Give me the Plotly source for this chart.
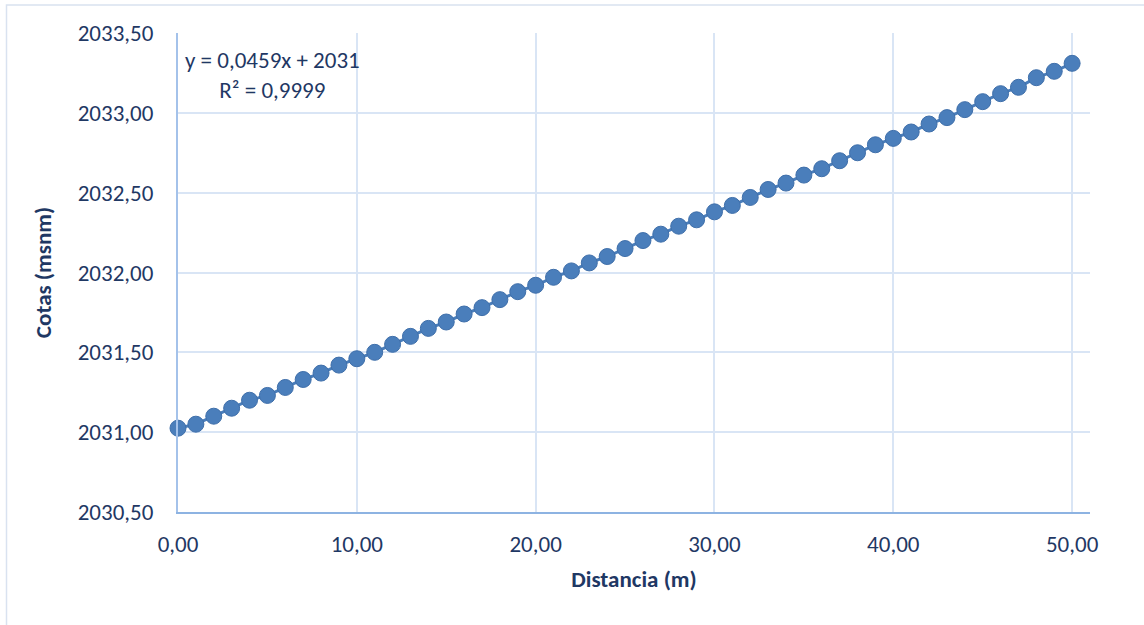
import plotly.graph_objects as go

distancia = list(range(0, 51))
cotas = [2031.025, 2031.05, 2031.10, 2031.15, 2031.20, 2031.23, 2031.28, 2031.33, 2031.37, 2031.42,
         2031.46, 2031.50, 2031.55, 2031.60, 2031.65, 2031.69, 2031.74, 2031.78, 2031.83, 2031.88,
         2031.92, 2031.97, 2032.01, 2032.06, 2032.10, 2032.15, 2032.20, 2032.24, 2032.29, 2032.33,
         2032.38, 2032.42, 2032.47, 2032.52, 2032.56, 2032.61, 2032.65, 2032.70, 2032.75, 2032.80,
         2032.84, 2032.88, 2032.93, 2032.97, 2033.02, 2033.07, 2033.12, 2033.16, 2033.22, 2033.26,
         2033.31]
x_ticks = [0, 10, 20, 30, 40, 50]
eq_text = "y = 0,0459x + 2031<br>R² = 0,9999"

FONT = "Carlito, Lato, Liberation Sans, sans-serif"
TXT = "#1F3864"
FS = 23

fig = go.Figure()
fig.add_trace(go.Scatter(
    x=distancia, y=cotas, mode="lines+markers",
    line=dict(color="#4A7EBB", width=3),
    marker=dict(color="#4A7EBB", size=16, line=dict(color="#3F6FAA", width=1)),
    showlegend=False, cliponaxis=False,
))

fig.update_layout(
    width=1144, height=625,
    margin=dict(l=178, r=54, t=33, b=113, autoexpand=False),
    paper_bgcolor="white", plot_bgcolor="white",
    separators=",.",
    font=dict(family=FONT, size=FS, color=TXT),
    xaxis=dict(
        range=[0, 51.0], tickvals=x_ticks, tickformat=".2f",
        showgrid=True, gridcolor="#D9E5F5", gridwidth=2,
        showline=True, linecolor="#8DB3E2", linewidth=2, zeroline=False,
        ticks="", ticklen=0, ticklabelstandoff=10,
        title=dict(text="<b>Distancia (m)</b>", font=dict(size=FS, color=TXT), standoff=14),
    ),
    yaxis=dict(
        range=[2030.5, 2033.5], dtick=0.5, tickformat=".2f",
        showgrid=True, gridcolor="#D9E5F5", gridwidth=2,
        showline=True, linecolor="#A4C2EA", linewidth=2, zeroline=False,
        ticks="", ticklen=0, ticklabelstandoff=18,
        title=dict(text="<b>Cotas (msnm)</b>", font=dict(size=FS, color=TXT), standoff=20),
    ),
    annotations=[dict(
        x=0.0, y=2033.43, xref="x", yref="y", text=eq_text, showarrow=False,
        xanchor="left", yanchor="top", align="center", xshift=5,
        font=dict(family=FONT, size=FS, color=TXT),
    )],
    shapes=[dict(
        type="rect", xref="paper", yref="paper",
        x0=(6.5 - 178) / 912, x1=(1160 - 178) / 912,
        y0=-(640 - 512) / 479, y1=1 + (33 - 5) / 479,
        line=dict(color="#D9E2F0", width=1.5), fillcolor="rgba(0,0,0,0)", layer="below",
    )],
)

fig.write_html("out.html", post_script="document.body.style.margin='0';",
               config={"displayModeBar": False})
